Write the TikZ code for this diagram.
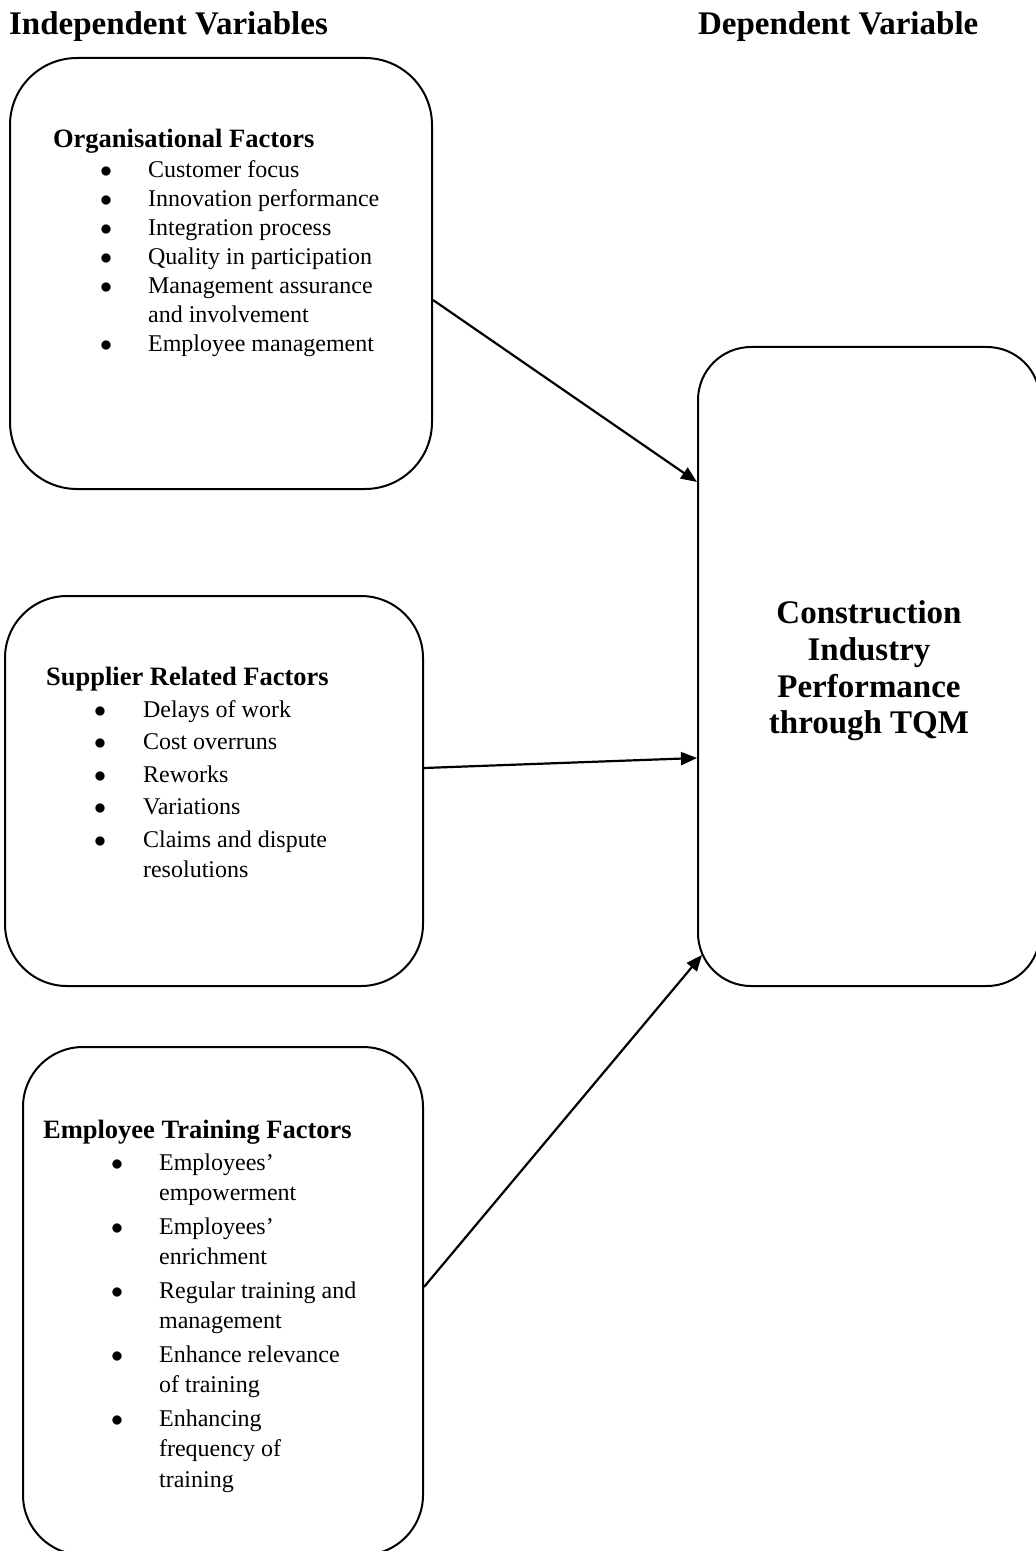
\documentclass[tikz,border=0pt]{standalone}
\usepackage{fontspec}
\setmainfont{Liberation Serif}
\usepackage{tikz}
\usetikzlibrary{arrows.meta}
\tikzstyle{factor}=[rectangle,draw=black,line width=1pt,inner sep=0pt]
\tikzstyle{title}=[anchor=base west,inner sep=0pt,font=\bfseries\fontsize{16.5}{19}\selectfont]
\tikzstyle{heading}=[anchor=base west,inner sep=0pt,font=\bfseries\fontsize{13.25}{15}\selectfont]
\tikzstyle{items}=[anchor=base west,inner sep=0pt,font=\fontsize{12}{14.5}\selectfont]
\newcommand{\bul}{$\bullet$}

\begin{document}
\begin{tikzpicture}[x=0.5pt,y=-0.5pt,>={Triangle[length=8pt,width=6.5pt]},line width=1.1pt]
  \useasboundingbox (0,0) rectangle (1035,1551);

  \node[title] (indep) at (8,35)   {Independent Variables};
  \node[title] (dep)   at (697,35) {Dependent Variable};

  % the three groups of factors
  \node[factor,rounded corners=33.5pt,minimum width=211pt,minimum height=215.5pt] (org) at (221,273.5) {};
  \node[factor,rounded corners=31pt,minimum width=209pt,minimum height=195pt] (sup) at (214,791) {};
  \node[factor,rounded corners=30pt,minimum width=200pt,minimum height=254pt] (emp) at (223,1301) {};

  \node[heading] (orgh) at (52,148) {Organisational Factors};
  \node[items] (orgl) at (99,178) {\begin{tabular}[t]{@{}p{24pt}@{}l@{}}
    \bul & Customer focus\\
    \bul & Innovation performance\\
    \bul & Integration process\\
    \bul & Quality in participation\\
    \bul & Management assurance\\
         & and involvement\\
    \bul & Employee management
  \end{tabular}};

  \node[heading] (suph) at (45,685) {Supplier Related Factors};
  \node[items,font=\fontsize{12}{15}\selectfont] (supl) at (93,717) {\begin{tabular}[t]{@{}p{24.5pt}@{}l@{}}
    \bul & Delays of work\\[1.25pt]
    \bul & Cost overruns\\[1.25pt]
    \bul & Reworks\\[1.25pt]
    \bul & Variations\\[1.25pt]
    \bul & Claims and dispute\\
         & resolutions
  \end{tabular}};

  \node[heading] (emph) at (42,1138) {Employee Training Factors};
  \node[items,font=\fontsize{12}{15.25}\selectfont] (empl) at (110,1170) {\begin{tabular}[t]{@{}p{24pt}@{}l@{}}
    \bul & Employees'\\
         & empowerment\\[1.5pt]
    \bul & Employees'\\
         & enrichment\\[1.5pt]
    \bul & Regular training and\\
         & management\\[1.5pt]
    \bul & Enhance relevance\\
         & of training\\[1.5pt]
    \bul & Enhancing\\
         & frequency of\\
         & training
  \end{tabular}};

  % dependent variable
  \node[factor,rounded corners=26.5pt,minimum width=171pt,minimum height=319.5pt] (perf) at (869,666.5) {};
  \node[align=center,inner sep=0pt,font=\bfseries\fontsize{16.5}{18.35}\selectfont] (perft) at (869,671)
        {Construction\\Industry\\Performance\\through TQM};

  \path[->] ([yshift=-13.25pt]org.east) edge ([yshift=92.25pt]perf.west)
            ([yshift=11.5pt]sup.east)   edge ([yshift=-45.75pt]perf.west)
            ([yshift=7pt]emp.east)      edge ([xshift=2.5pt,yshift=-144.25pt]perf.west);
\end{tikzpicture}
\end{document}
